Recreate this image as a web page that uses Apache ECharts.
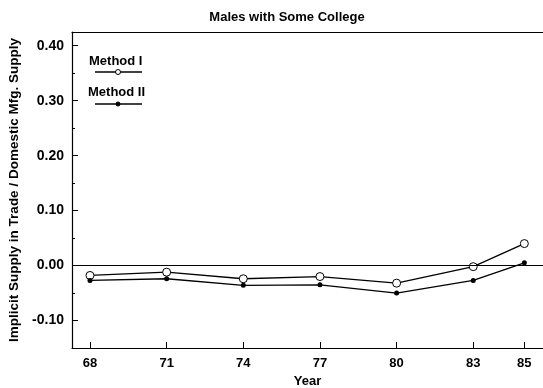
<!DOCTYPE html>
<html><head><meta charset="utf-8">
<script src="https://cdn.jsdelivr.net/npm/echarts@6/dist/echarts.min.js"></script>
<style>html,body{margin:0;padding:0;background:#fff}#c{width:543px;height:388px}</style>
</head><body><div id="c"></div>
<script>
const years = [68, 71, 74, 77, 80, 83, 85];
const methodI = [-0.018, -0.012, -0.024, -0.020, -0.032, -0.002, 0.040];
const methodII = [-0.027, -0.024, -0.036, -0.035, -0.050, -0.027, 0.005];
const yTickLabels = [-0.1, 0, 0.1, 0.2, 0.3, 0.4];
const yMinorTicks = [-0.15, -0.05, 0.05, 0.15, 0.25, 0.35];
const seriesNames = ['Method I', 'Method II'];

const chart = echarts.init(document.getElementById('c'));
const font = 'Liberation Sans, Arial, sans-serif';
const lbl = {color:'#000', fontFamily:font, fontWeight:'bold', fontSize:13};
chart.setOption({
  animation:false,
  title:{text:'Males with Some College', left:282, top:6, textAlign:'center',
    textStyle:{fontFamily:font, fontWeight:'bold', fontSize:13, color:'#000'}},
  grid:{left:72, top:32, right:0, bottom:40, outerBoundsMode:'none', containLabel:false},
  xAxis:[{type:'value', min:67.296, max:85.73, name:'Year', nameLocation:'middle', nameGap:24,
    nameTextStyle:lbl,
    axisLine:{onZero:false, lineStyle:{color:'#000', width:1.2}},
    axisTick:{inside:true, length:6, customValues:years, lineStyle:{color:'#000'}},
    axisLabel:Object.assign({customValues:years, margin:9}, lbl),
    splitLine:{show:false}},
   {type:'value', min:67.296, max:85.73, position:'top',
    axisLine:{onZero:false, lineStyle:{color:'#000', width:1.2}},
    axisTick:{show:false}, axisLabel:{show:false}, splitLine:{show:false}}],
  yAxis:[{type:'value', min:-0.15, max:0.425,
    name:'Implicit Supply in Trade / Domestic Mfg. Supply', nameLocation:'middle', nameGap:50,
    nameTextStyle:Object.assign({}, lbl, {fontSize:13.5}),
    axisLine:{onZero:false, lineStyle:{color:'#000', width:1.2}},
    axisTick:{inside:true, length:6, customValues:yTickLabels, lineStyle:{color:'#000'}},
    axisLabel:Object.assign({customValues:yTickLabels, margin:8, formatter:v=>v.toFixed(2)}, lbl, {fontSize:14}),
    splitLine:{show:false}},
   {type:'value', min:-0.15, max:0.425, position:'left',
    axisLine:{show:false, onZero:false},
    axisTick:{inside:true, length:3, customValues:yMinorTicks, lineStyle:{color:'#000'}},
    axisLabel:{show:false}, splitLine:{show:false}}],
  series:[
    {name:seriesNames[0], type:'line', data:years.map((y,i)=>[y, methodI[i]]),
      symbol:'circle', symbolSize:8, itemStyle:{color:'#fff', borderColor:'#000', borderWidth:1},
      lineStyle:{color:'#000', width:1.3},
      markLine:{silent:true, symbol:'none', label:{show:false},
        lineStyle:{color:'#000', type:'solid', width:1.2}, data:[{yAxis:0}]}},
    {name:seriesNames[1], type:'line', data:years.map((y,i)=>[y, methodII[i]]),
      symbol:'circle', symbolSize:5, itemStyle:{color:'#000'},
      lineStyle:{color:'#000', width:1.3}}
  ],
  graphic:[
    {type:'text', left:89, top:55, style:{text:seriesNames[0], font:'bold 13px '+font, fill:'#000'}},
    {type:'line', shape:{x1:95, y1:72, x2:142, y2:72}, style:{stroke:'#000', lineWidth:1.3}},
    {type:'circle', shape:{cx:118, cy:72, r:2.5}, style:{fill:'#fff', stroke:'#000', lineWidth:1}},
    {type:'text', left:88, top:86, style:{text:seriesNames[1], font:'bold 13px '+font, fill:'#000'}},
    {type:'line', shape:{x1:95, y1:104, x2:142, y2:104}, style:{stroke:'#000', lineWidth:1.3}},
    {type:'circle', shape:{cx:118, cy:104, r:2}, style:{fill:'#000', stroke:'#000', lineWidth:1}}
  ]
});
</script></body></html>
